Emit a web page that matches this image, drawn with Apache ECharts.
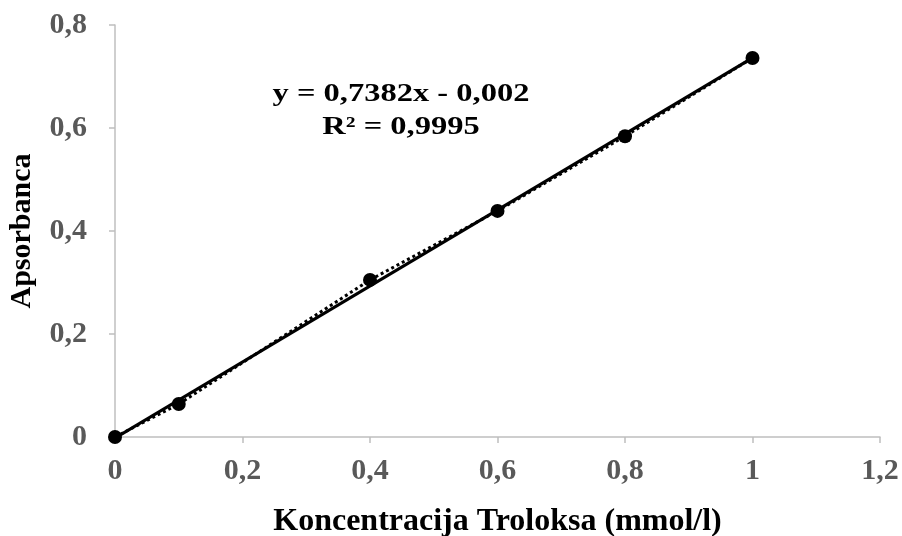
<!DOCTYPE html>
<html><head><meta charset="utf-8">
<script src="https://cdn.jsdelivr.net/npm/echarts@6/dist/echarts.min.js"></script>
<style>html,body{margin:0;padding:0;background:#fff}#c{width:902px;height:536px}</style>
</head><body><div id="c"></div>
<script>
const xValues = [0, 0.1, 0.4, 0.6, 0.8, 1.0];
const yValues = [0, 0.064, 0.305, 0.439, 0.584, 0.736];
const slope = 0.7382;
const intercept = -0.002;
const trendX = [0, 1];
const equationText = 'y = 0,7382x - 0,002';
const r2Text = 'R² = 0,9995';
const xName = 'Koncentracija Troloksa (mmol/l)';
const yName = 'Apsorbanca';

const fmt = v => String(+v.toFixed(2)).replace('.', ',');
const font = '"Liberation Serif", "Times New Roman", serif';
const chart = echarts.init(document.getElementById('c'));
chart.setOption({
  animation: false,
  grid: {left: 115, right: 22, top: 25, bottom: 99, containLabel: false, outerBoundsMode: 'none'},
  xAxis: {
    type: 'value', min: 0, max: 1.2, interval: 0.2,
    name: xName, nameLocation: 'middle', nameGap: 69,
    nameTextStyle: {fontFamily: font, fontWeight: 'bold', fontSize: 32, color: '#000'},
    axisLine: {lineStyle: {color: '#bfbfbf', width: 1.5}},
    axisTick: {show: true, length: 6, lineStyle: {color: '#bfbfbf', width: 1.5}},
    splitLine: {show: false},
    axisLabel: {formatter: fmt, margin: 19, fontFamily: font, fontWeight: 'bold', fontSize: 30, color: '#595959'}
  },
  yAxis: {
    type: 'value', min: 0, max: 0.8, interval: 0.2,
    name: yName, nameLocation: 'middle', nameGap: 78,
    nameTextStyle: {fontFamily: font, fontWeight: 'bold', fontSize: 30, color: '#000'},
    axisLine: {show: true, lineStyle: {color: '#bfbfbf', width: 1.5}},
    axisTick: {show: true, length: 6, lineStyle: {color: '#bfbfbf', width: 1.5}},
    splitLine: {show: false},
    axisLabel: {formatter: fmt, margin: 28, fontFamily: font, fontWeight: 'bold', fontSize: 30, color: '#595959'}
  },
  graphic: [
    {type: 'text', x: 401, y: 95, scaleX: 1.3, style: {text: equationText, align: 'center', verticalAlign: 'middle', font: 'bold 25px ' + font, fill: '#000'}},
    {type: 'text', x: 401, y: 128, scaleX: 1.3, style: {text: r2Text, align: 'center', verticalAlign: 'middle', font: 'bold 25px ' + font, fill: '#000'}}
  ],
  series: [
    {
      type: 'line',
      data: xValues.map((x, i) => [x, yValues[i]]),
      symbol: 'circle', symbolSize: 14,
      itemStyle: {color: '#000'},
      lineStyle: {color: '#000', width: 3, type: 'dotted'},
      z: 3
    },
    {
      type: 'line',
      data: trendX.map(x => [x, slope * x + intercept]),
      symbol: 'none',
      lineStyle: {color: '#000', width: 3.2},
      z: 2
    }
  ]
});
</script></body></html>
